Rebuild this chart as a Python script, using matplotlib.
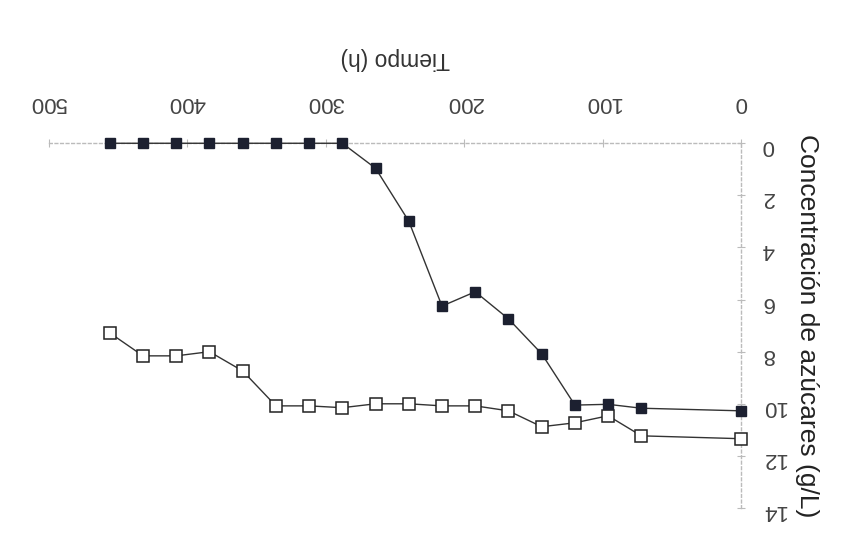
import matplotlib
matplotlib.use("Agg")
import matplotlib.pyplot as plt

# Data (time in h, sugar concentration in g/L)
tiempo = [0, 72, 96, 120, 144, 168, 192, 216, 240, 264, 288, 312, 336, 360, 384, 408, 432, 456]
serie_llena = [10.27, 10.17, 10.02, 10.05, 8.08, 6.74, 5.70, 6.25, 2.99, 0.96,
               0, 0, 0, 0, 0, 0, 0, 0]
serie_vacia = [11.34, 11.23, 10.46, 10.73, 10.88, 10.27, 10.08, 10.08, 10.0, 10.0,
               10.15, 10.08, 10.08, 8.74, 8.0, 8.16, 8.16, 7.28]
x_ticks = [0, 100, 200, 300, 400, 500]
y_ticks = [0, 2, 4, 6, 8, 10, 12, 14]

plt.rcParams['font.family'] = ['Liberation Sans', 'DejaVu Sans']

fig = plt.figure(figsize=(8.43, 5.46), dpi=100)
ax = fig.add_axes([0.058, 0.0696, 0.821, 0.668])

ax.plot(tiempo, serie_vacia, color='#333333', lw=1.0, marker='s', ms=8,
        mfc='white', mec='#222222', mew=1.1, zorder=3, clip_on=False)
ax.plot(tiempo, serie_llena, color='#333333', lw=1.0, marker='s', ms=7.5,
        mfc='#1c2030', mec='#1c2030', zorder=4, clip_on=False)

ax.set_xlim(0, 500)
ax.set_ylim(0, 14)
ax.invert_xaxis()
ax.invert_yaxis()

ax.xaxis.tick_top()
ax.xaxis.set_label_position('top')
ax.yaxis.tick_right()
ax.yaxis.set_label_position('right')

ax.set_xticks(x_ticks)
ax.set_yticks(y_ticks)
ax.set_xticklabels([str(v) for v in x_ticks], rotation=180, fontsize=16, color='#444444')
ax.set_yticklabels([str(v) for v in y_ticks], rotation=180, fontsize=16, color='#444444')
ax.tick_params(axis='x', direction='inout', length=6, color='#bbbbbb', pad=19)
ax.tick_params(axis='y', direction='inout', length=6, color='#bbbbbb', pad=12)

for s in ['left', 'bottom']:
    ax.spines[s].set_visible(False)
for s in ['top', 'right']:
    ax.spines[s].set_color('#bbbbbb')
    ax.spines[s].set_linestyle((0, (2, 2)))
    ax.spines[s].set_linewidth(1.0)

ax.set_xlabel('Tiempo (h)', rotation=180, fontsize=16.5, color='#333333', labelpad=19)
ax.set_ylabel('Concentración de azúcares (g/L)', rotation=270, fontsize=19,
              color='#222222', labelpad=6, va='bottom')

fig.savefig('out.png', dpi=100, facecolor='white')
